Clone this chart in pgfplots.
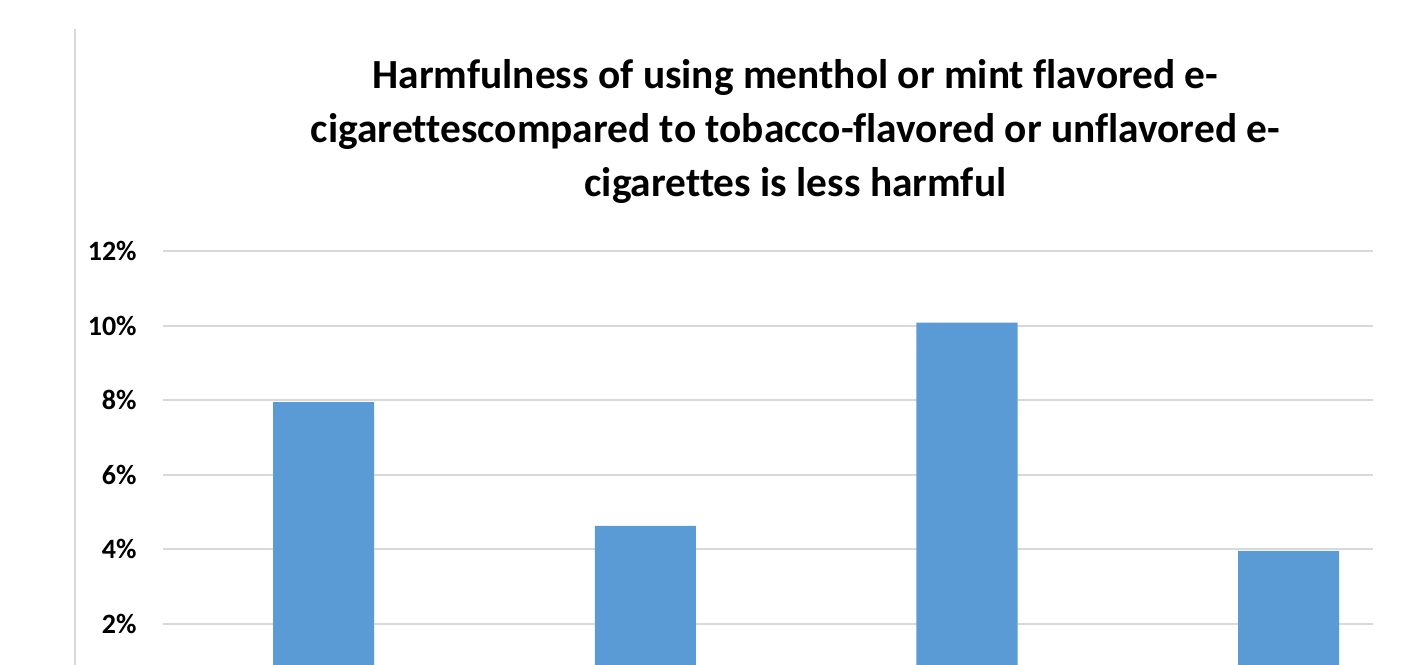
\documentclass[border=0pt]{standalone}
\usepackage{fontspec}
\setmainfont{Carlito}[Ligatures=CommonOff]
\usepackage{pgfplots}
\pgfplotsset{compat=1.18}
\definecolor{barblue}{HTML}{5B9BD5}
\definecolor{gridgray}{HTML}{D9D9D9}
\begin{document}
\begin{tikzpicture}
\useasboundingbox (0,0) rectangle (700.5bp,332.5bp);
\draw[gridgray, line width=0.6bp] (37.5bp,318bp) -- (37.5bp,0);
\begin{axis}[
  at={(81.5bp,0bp)}, anchor=south west,
  scale only axis, width=605bp, height=207bp,
  xmin=-0.499, xmax=3.262, ymin=0.9, ymax=12,
  axis line style={draw=none}, tick style={draw=none},
  xtick=\empty,
  ytick={2,4,6,8,10,12},
  yticklabels={2\%,4\%,6\%,8\%,10\%,12\%},
  yticklabel style={font=\fontsize{14bp}{16bp}\selectfont\bfseries, anchor=east, inner sep=0pt, xshift=-13bp},
  ymajorgrids, major grid style={gridgray, line width=1bp},
  clip=true,
]
\addplot[ybar, fill=barblue, draw=none, bar width=0.314] coordinates {(0,7.95) (1,4.63) (2,10.08) (3,3.96)};
\end{axis}
\begin{scope}[every node/.style={font=\fontsize{20.7bp}{26bp}\selectfont\bfseries, inner sep=0pt, anchor=base}]
\node at (397.75bp,288bp) {Harmfulness of using menthol or mint flavored e-};
\node at (397.75bp,261bp) {cigarettescompared to tobacco-flavored or unflavored e-};
\node at (397.75bp,234bp) {cigarettes is less harmful};
\end{scope}
\end{tikzpicture}
\end{document}
